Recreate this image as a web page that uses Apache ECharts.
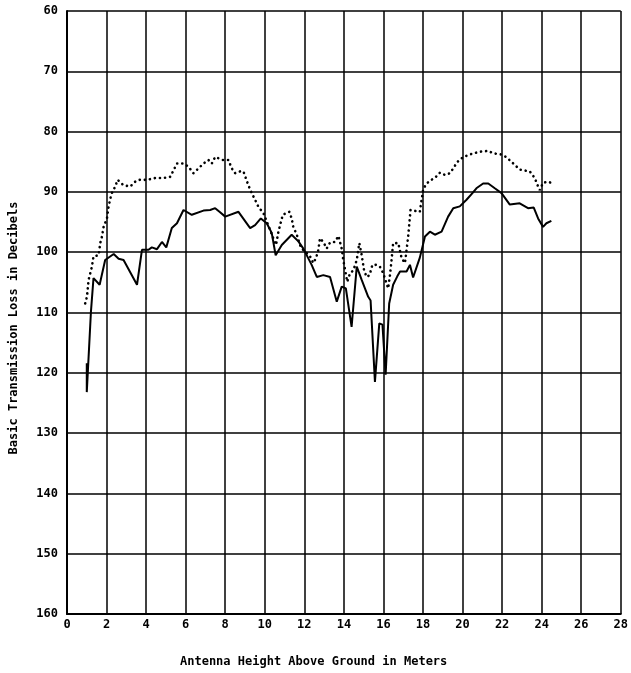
<!DOCTYPE html>
<html>
<head>
<meta charset="utf-8">
<script src="https://cdn.jsdelivr.net/npm/echarts@6/dist/echarts.min.js"></script>
<style>
html,body{margin:0;padding:0;background:#fff;}
#chart{width:631px;height:673px;}
</style>
</head>
<body>
<div id="chart"></div>
<script>
// Solid curve: [height (m), basic transmission loss (dB)]
var solidX = [1.0,1.0,1.21,1.34,1.65,1.93,2.36,2.61,2.86,3.54,3.79,4.12,4.29,4.55,4.80,5.02,5.30,5.56,5.89,6.31,6.9,7.24,7.49,7.71,8.0,8.67,9.26,9.51,9.8,10.1,10.35,10.55,10.86,11.36,11.7,11.95,12.37,12.63,12.96,13.3,13.64,13.89,14.1,14.39,14.65,14.9,15.23,15.35,15.57,15.79,15.95,16.11,16.29,16.49,16.7,16.84,17.17,17.34,17.5,17.84,18.1,18.35,18.6,18.94,19.27,19.53,19.86,20.2,20.5,20.7,21.04,21.3,21.63,21.97,22.39,22.89,23.31,23.6,23.82,24.07,24.24,24.49];
var solidY = [118.4,123.2,109.9,104.3,105.4,101.3,100.3,101.1,101.3,105.4,99.6,99.6,99.2,99.5,98.3,99.2,96.0,95.2,93.0,93.8,93.1,93.0,92.7,93.3,94.1,93.3,96.0,95.5,94.4,95.2,96.8,100.5,98.8,97.1,98.2,99.4,102.1,104.1,103.8,104.1,108.2,105.7,106.0,112.4,102.4,104.6,107.4,108.0,121.5,111.8,112.0,120.3,108.5,105.4,104.0,103.2,103.2,102.1,104.2,100.9,97.4,96.6,97.1,96.6,94.1,92.7,92.4,91.3,90.2,89.4,88.6,88.6,89.4,90.2,92.1,91.9,92.7,92.6,94.4,95.8,95.2,94.8];
// Dotted curve
var dotX = [0.92,1.01,1.09,1.26,1.34,1.6,1.68,1.77,1.85,2.02,2.1,2.19,2.27,2.44,2.56,2.86,3.2,3.45,3.62,4.04,4.46,4.88,5.22,5.39,5.56,5.89,6.14,6.39,6.65,6.9,7.15,7.32,7.49,7.88,8.16,8.33,8.5,8.75,8.92,9.17,9.34,9.51,9.68,9.93,10.1,10.27,10.43,10.57,10.69,10.91,11.24,11.36,11.44,11.62,11.78,11.87,12.04,12.29,12.45,12.59,12.71,12.79,12.96,13.13,13.3,13.55,13.72,13.89,13.97,14.11,14.17,14.31,14.48,14.65,14.78,14.9,15.02,15.15,15.3,15.44,15.62,15.82,15.99,16.16,16.24,16.33,16.41,16.49,16.75,16.92,17.09,17.17,17.25,17.37,17.84,17.93,18.01,18.18,18.43,18.69,18.86,19.11,19.36,19.53,19.7,19.86,20.2,20.54,20.96,21.29,21.55,21.97,22.2,22.47,22.89,23.4,23.65,23.82,23.9,24.07,24.32,24.55];
var dotY = [108.5,107.4,104.6,102.4,100.7,100.5,98.5,97.4,95.8,94.4,92.5,91.1,90.2,89.1,88.0,88.9,89.1,88.3,88.0,88.0,87.7,87.7,87.5,86.4,85.3,85.3,85.8,86.9,86.1,85.3,84.7,85.3,84.2,84.7,84.7,86.1,86.9,86.6,86.6,88.9,90.2,91.3,92.5,93.5,94.9,96.3,97.7,98.8,96.6,93.8,93.3,94.4,95.8,97.1,98.8,99.4,99.9,100.7,101.8,101.0,99.6,97.7,98.3,99.4,98.4,98.3,97.3,99.4,101.3,103.8,104.9,103.5,103.0,101.3,98.5,100.5,103.0,104.1,103.8,102.1,102.1,102.4,103.5,105.2,106.0,103.8,101.3,98.5,98.5,101.0,101.8,99.6,97.4,93.0,93.3,91.3,89.6,88.6,88.0,87.4,86.8,87.2,86.9,86.1,85.2,84.6,84.0,83.6,83.3,83.2,83.6,83.8,84.2,85.0,86.3,86.6,87.7,89.1,89.7,88.5,88.3,88.6];

var xTicks = [0,2,4,6,8,10,12,14,16,18,20,22,24,26,28];
var yTicks = [60,70,80,90,100,110,120,130,140,150,160];
var xTitle = 'Antenna Height Above Ground in Meters';
var yTitle = 'Basic Transmission Loss in Decibels';

function zip(a,b){var r=[];for(var i=0;i<a.length;i++)r.push([a[i],b[i]]);return r;}

var chart = echarts.init(document.getElementById('chart'), null, {renderer:'canvas'});
var lblFont = {color:'#000', fontFamily:'DejaVu Sans Mono', fontWeight:'bold', fontSize:12};
var titleFont = 'bold 12px "DejaVu Sans Mono"';
chart.setOption({
  animation:false,
  backgroundColor:'#fff',
  grid:{left:67, right:10, top:11, bottom:59, containLabel:false},
  xAxis:{
    type:'value', min:xTicks[0], max:xTicks[xTicks.length-1], interval:2,
    axisLine:{show:true, onZero:false, lineStyle:{color:'#000', width:2}},
    axisTick:{show:false},
    splitLine:{show:true, lineStyle:{color:'#000', width:1.5}},
    axisLabel:Object.assign({margin:5}, lblFont)
  },
  yAxis:{
    type:'value', inverse:true, min:yTicks[0], max:yTicks[yTicks.length-1], interval:10,
    axisLine:{show:true, onZero:false, lineStyle:{color:'#000', width:2}},
    axisTick:{show:false},
    splitLine:{show:true, lineStyle:{color:'#000', width:1.5}},
    axisLabel:Object.assign({margin:9}, lblFont)
  },
  graphic:[
    {type:'text', left:180, top:656, style:{text:xTitle, fill:'#000', font:titleFont}},
    {type:'text', x:14, y:328, rotation:Math.PI/2, originX:0, originY:0,
     style:{text:yTitle, fill:'#000', font:titleFont, align:'center', verticalAlign:'middle'}}
  ],
  series:[
    {type:'line', data:zip(solidX,solidY), showSymbol:false, symbol:'none',
     lineStyle:{color:'#000', width:2}, z:5},
    {type:'line', data:zip(dotX,dotY), showSymbol:false, symbol:'none',
     lineStyle:{color:'#000', width:2.6, type:[0.1,5], cap:'round'}, z:6}
  ]
});
</script>
</body>
</html>
